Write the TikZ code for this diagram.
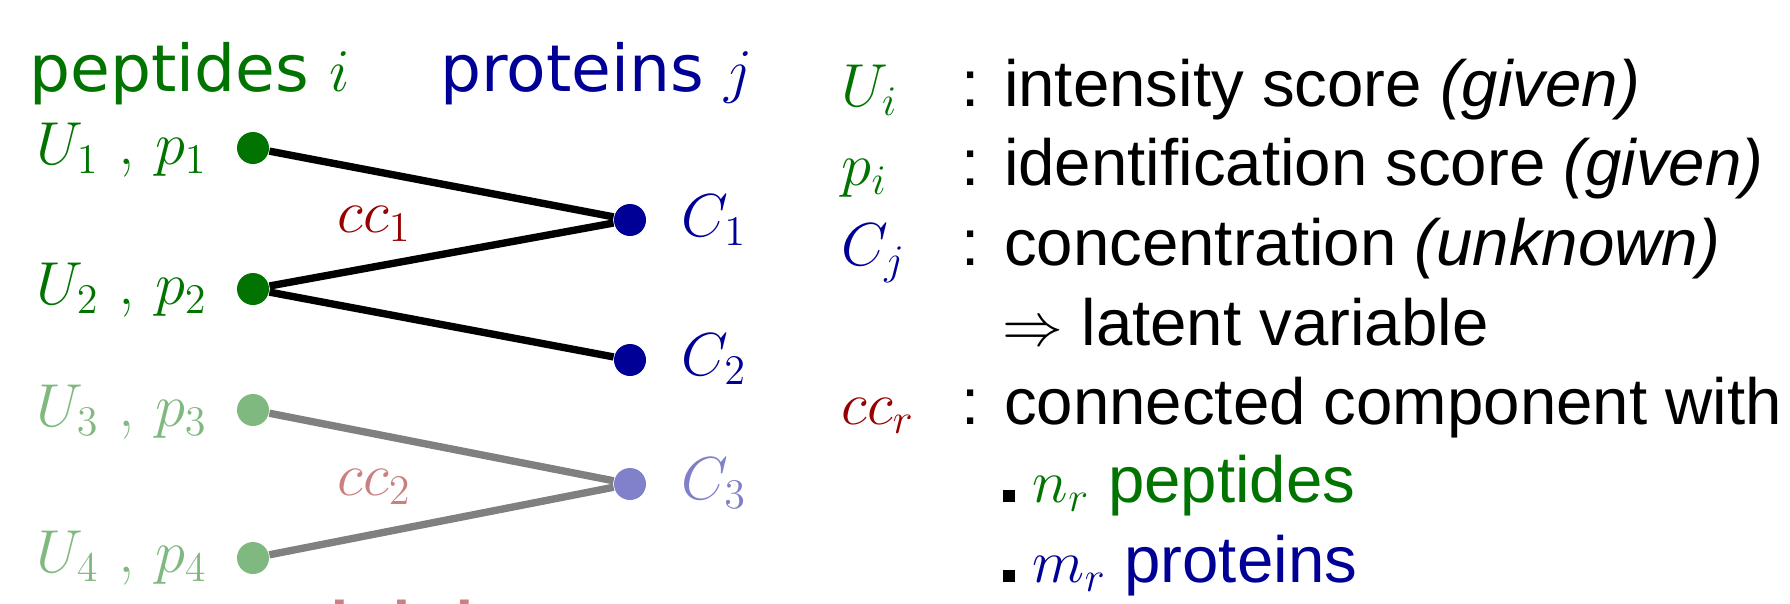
\documentclass[tikz,border=0pt]{standalone}
\usepackage{fontspec}
\newfontfamily\headfont{DejaVu Sans}
\newfontfamily\legfont{Liberation Sans}
\usepackage{tikz}
\usetikzlibrary{positioning}
\definecolor{pepgreen}{RGB}{0,115,0}
\definecolor{protblue}{RGB}{0,0,150}
\definecolor{ccred}{RGB}{150,0,0}

\begin{document}
\begin{tikzpicture}[
  dot/.style={circle, inner sep=0pt, minimum size=0.32cm},
  pep/.style={dot, fill=pepgreen},
  peplight/.style={dot, fill=pepgreen!50},
  prot/.style={dot, fill=protblue},
  protlight/.style={dot, fill=protblue!50},
  edge/.style={line width=2.1pt, draw=black},
  edgelight/.style={edge, draw=black!50},
  head/.style={anchor=base west, inner sep=0pt, font=\headfont\fontsize{18.4}{22}\selectfont},
  mathlabel/.style={inner sep=0pt, font=\fontsize{18.6}{22}\selectfont},
  legend/.style={anchor=base west, inner sep=0pt, font=\legfont\fontsize{18.6}{22.5}\selectfont}
]
\useasboundingbox (0,0) rectangle (17.9,-6.03);

% headings
\node[head, text=pepgreen] (hpep) at (0.29,-0.91) {peptides $i$};
\node[head, text=protblue] (hprot) at (4.40,-0.91) {proteins $j$};

% peptides
\node[pep] (p1) at (2.53,-1.48) {};
\node[pep] (p2) at (2.53,-2.89) {};
\node[peplight] (p3) at (2.53,-4.10) {};
\node[peplight] (p4) at (2.53,-5.58) {};

% proteins
\node[prot] (c1) at (6.30,-2.20) {};
\node[prot] (c2) at (6.30,-3.60) {};
\node[protlight] (c3) at (6.30,-4.84) {};

% labels
\node[mathlabel, anchor=base east, text=pepgreen] (lp1) at (2.08,-1.64) {$U_1$ , $p_1$};
\node[mathlabel, anchor=base east, text=pepgreen] (lp2) at (2.08,-3.04) {$U_2$ , $p_2$};
\node[mathlabel, anchor=base east, text=pepgreen!50] (lp3) at (2.08,-4.26) {$U_3$ , $p_3$};
\node[mathlabel, anchor=base east, text=pepgreen!50] (lp4) at (2.08,-5.72) {$U_4$ , $p_4$};
\node[mathlabel, anchor=base west, text=protblue] (lc1) at (6.81,-2.36) {$C_1$};
\node[mathlabel, anchor=base west, text=protblue] (lc2) at (6.81,-3.75) {$C_2$};
\node[mathlabel, anchor=base west, text=protblue!50] (lc3) at (6.81,-4.99) {$C_3$};

% edges
\draw[edge] (p1) -- (c1);
\draw[edge] (p2) -- (c1);
\draw[edge] (p2) -- (c2);
\draw[edgelight] (p3) -- (c3);
\draw[edgelight] (p4) -- (c3);

% components
\node[mathlabel, anchor=base west, text=ccred] (cc1) at (3.37,-2.32) {$cc_1$};
\node[mathlabel, anchor=base west, text=ccred!50] (cc2) at (3.37,-4.95) {$cc_2$};
\node[anchor=base, inner sep=0pt, text=ccred!50, font=\headfont\fontsize{24}{24}\selectfont] (more) at (4.02,-6.10) {. . .};

% legend
\node[legend, text=pepgreen] (sU) at (8.41,-1.06) {$U_i$};
\node[legend] (tU) at (9.61,-1.06) {: intensity score \textit{(given)}};
\node[legend, text=pepgreen] (sp) at (8.41,-1.85) {$p_i$};
\node[legend] (tp) at (9.61,-1.85) {: identification score \textit{(given)}};
\node[legend, text=protblue] (sC) at (8.41,-2.65) {$C_j$};
\node[legend] (tC) at (9.61,-2.65) {: concentration \textit{(unknown)}};
\node[legend] (tlat) at (10.02,-3.45) {$\Rightarrow$ latent variable};
\node[legend, text=ccred] (scc) at (8.41,-4.24) {$cc_r$};
\node[legend] (tcc) at (9.61,-4.24) {: connected component with};
\node[legend] (tn) at (10.02,-5.02) {\rule{3.4pt}{3.4pt} \textcolor{pepgreen}{$n_r$ peptides}};
\node[legend] (tm) at (10.02,-5.82) {\rule{3.4pt}{3.4pt} \textcolor{protblue}{$m_r$ proteins}};
\end{tikzpicture}
\end{document}
